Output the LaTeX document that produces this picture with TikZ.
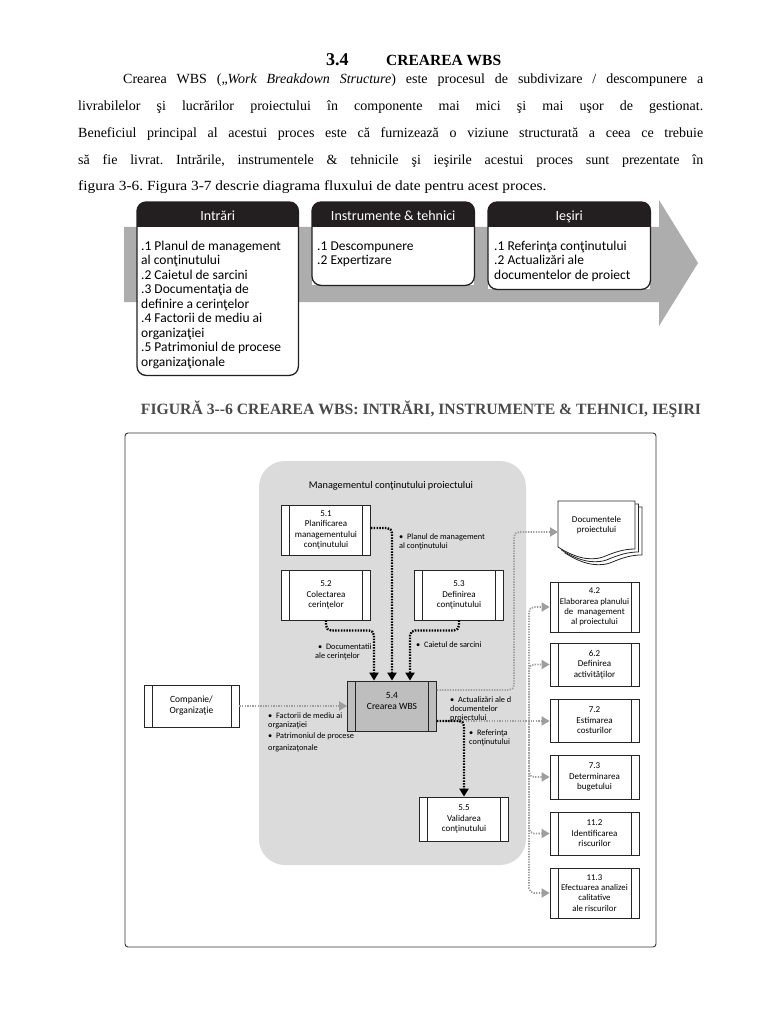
\documentclass[tikz,border=0pt]{standalone}
\usepackage{fontspec}
\usepackage{graphicx}
\setmainfont{Liberation Serif}
\newfontfamily\dsans{Carlito}
\usetikzlibrary{arrows.meta}
\definecolor{hdr}{HTML}{231F20}
\definecolor{band}{HTML}{ADADAD}
\definecolor{panel}{HTML}{DBDBDB}
\definecolor{boxg}{HTML}{BEBEBE}
\definecolor{gflowc}{HTML}{9E9E9E}
\definecolor{capc}{HTML}{4A4A4A}
\frenchspacing
\begin{document}
\begin{tikzpicture}[x=1pt,y=-1pt,
  para/.style={anchor=base west, inner sep=0pt, font=\fontsize{14}{16}\selectfont},
  ittobox/.style={fill=white, inner sep=0pt, anchor=north west},
  hdrtext/.style={text=white, font=\dsans\fontsize{14}{16}\selectfont, inner sep=0pt, anchor=base},
  ittotext/.style={anchor=base west, align=left, inner sep=0pt, font=\dsans\fontsize{13.5}{14.5}\selectfont},
  proc/.style={draw=black!85, line width=0.8pt, fill=white, minimum width=89pt, align=center, inner sep=0pt,
    font=\dsans\fontsize{9}{10.5}\selectfont,
    path picture={\draw[black!85, line width=0.7pt]
      ([xshift=8pt]path picture bounding box.north west) -- ([xshift=8pt]path picture bounding box.south west)
      ([xshift=-8pt]path picture bounding box.north east) -- ([xshift=-8pt]path picture bounding box.south east);}},
  lbl/.style={anchor=base west, align=left, inner sep=0pt, font=\dsans\fontsize{8.3}{9.6}\selectfont},
  bflow/.style={draw=black, line width=2.3pt, dash pattern=on 1.5pt off 1.3pt, rounded corners=5pt,
    -{Triangle[length=8pt,width=9pt]}},
  gflow/.style={draw=gflowc, line width=1.8pt, dash pattern=on 1.3pt off 1.3pt, rounded corners=5pt,
    -{Triangle[length=8pt,width=9pt]}}
]
\useasboundingbox (0,0) rectangle (768,1024);
\fill[white] (0,0) rectangle (768,1024);

% ---------- title and paragraph ----------
\node[anchor=base west, inner sep=0pt, font=\bfseries\fontsize{18}{20}\selectfont] (t34) at (326,66) {3.4};
\node[anchor=base west, inner sep=0pt, font=\bfseries\fontsize{15.5}{17}\selectfont] (ttl) at (386,66) {CREAREA WBS};

\node[para] (p1) at (123,84) {\makebox[580pt][s]{Crearea WBS („\textit{Work Breakdown Structure}) este procesul de subdivizare / descompunere a}};
\node[para] (p2) at (78,111) {\makebox[625pt][s]{livrabilelor şi lucrărilor proiectului în componente mai mici şi mai uşor de gestionat.}};
\node[para] (p3) at (78,138) {\makebox[625pt][s]{Beneficiul principal al acestui proces este că furnizează o viziune structurată a ceea ce trebuie}};
\node[para] (p4) at (78,165) {\makebox[625pt][s]{să fie livrat. Intrările, instrumentele \& tehnicile şi ieşirile acestui proces sunt prezentate în}};
\node[para] (p5) at (78,191) {\scalebox{1.1}[1]{figura 3-6. Figura 3-7 descrie diagrama fluxului de date pentru acest proces.}};

% ---------- ITTO figure ----------
\fill[band] (124,227) -- (659,227) -- (659,200) -- (698,263) -- (659,326) -- (659,302) -- (124,302) -- cycle;

\node[ittobox, minimum width=161pt, minimum height=173pt] (inb) at (137,202) {};
\node[ittobox, minimum width=162pt, minimum height=83pt] (itb) at (312,202) {};
\node[ittobox, minimum width=162pt, minimum height=87pt] (ieb) at (488,202) {};
\foreach \b in {inb,itb,ieb}{
  \begin{scope}
    \clip[rounded corners=9pt] (\b.north west) rectangle (\b.south east);
    \fill[hdr] (\b.north west) rectangle ([yshift=-25pt]\b.north east);
  \end{scope}
  \draw[hdr, line width=1.3pt, rounded corners=9pt] (\b.north west) rectangle (\b.south east);
}
\node[hdrtext] (inh) at ([yshift=-19pt]inb.north) {Intrări};
\node[hdrtext] (ith) at ([yshift=-19pt]itb.north) {Instrumente \& tehnici};
\node[hdrtext] (ieh) at ([yshift=-19pt]ieb.north) {Ieşiri};

\node[ittotext] (inl) at (141,366) {.1 Planul de management\\al conţinutului\\.2 Caietul de sarcini\\.3 Documentaţia de\\definire a cerinţelor\\.4 Factorii de mediu ai\\organizaţiei\\.5 Patrimoniul de procese\\organizaţionale};
\node[ittotext] (itl) at (317,264.5) {.1 Descompunere\\.2 Expertizare};
\node[ittotext] (iel) at (494,279) {.1 Referinţa conţinutului\\.2 Actualizări ale\\documentelor de proiect};

\node[anchor=base, inner sep=0pt, text=capc, font=\bfseries\fontsize{15.7}{17}\selectfont] (cap) at (421,414)
  {FIGURĂ 3-{}-6 CREAREA WBS: INTRĂRI, INSTRUMENTE \& TEHNICI, IEŞIRI};

% ---------- data flow diagram ----------
\draw[black!80, line width=0.9pt, rounded corners=3pt] (125,433) rectangle (656,947);
\node[fill=panel, rounded corners=26pt, minimum width=267pt, minimum height=404pt, inner sep=0pt] (pan) at (392.5,663) {};
\node[inner sep=0pt, font=\dsans\fontsize{10.3}{12}\selectfont] (pant) at (391,486) {Managementul conţinutului proiectului};

\node[proc, minimum height=50pt] (s51) at (326,530) {5.1\\Planificarea\\managementului\\conţinutului};
\node[proc, minimum height=50pt] (s52) at (326,595) {5.2\\Colectarea\\cerinţelor};
\node[proc, minimum height=50pt] (s53) at (459,595) {5.3\\Definirea\\conţinutului};
\node[proc, minimum height=50pt, fill=boxg] (s54) at (392,706) {};
\node[inner sep=0pt, align=center, font=\dsans\fontsize{9.5}{11}\selectfont] (s54t) at ([yshift=5pt]s54.center) {5.4\\Crearea WBS};
\node[proc, minimum height=44pt] (s55) at (464,819) {5.5\\Validarea\\conţinutului};
\node[proc, minimum width=95pt, minimum height=42pt, font=\dsans\fontsize{9.5}{11}\selectfont] (comp) at (191.5,706) {Companie/\\Organizaţie};

\node[proc, minimum height=50pt, font=\dsans\fontsize{8.8}{10.2}\selectfont] (r42) at (594.5,607) {4.2\\Elaborarea planului\\de\ \ management\\al proiectului};
\node[proc, minimum height=43pt] (r62) at (594.5,664.5) {6.2\\Definirea\\activităţilor};
\node[proc, minimum height=43pt] (r72) at (594.5,720.5) {7.2\\Estimarea\\costurilor};
\node[proc, minimum height=44pt] (r73) at (594.5,777) {7.3\\Determinarea\\bugetului};
\node[proc, minimum height=43pt] (r112) at (594.5,833.5) {11.2\\Identificarea\\riscurilor};
\node[proc, minimum height=50pt, font=\dsans\fontsize{8.8}{10.2}\selectfont] (r113) at (594.5,893) {11.3\\Efectuarea analizei\\calitative\\ale riscurilor};

% document stack
\foreach \d in {7,3.5,0}{
  \draw[black!85, line width=0.8pt, fill=white, shift={(\d,\d*0.85)}]
    (558,501) -- (635,501) -- (635,549) .. controls (624,549) and (615,552) .. (603,557)
    .. controls (588,562) and (572,556) .. (558,547) -- cycle;
}
\node[inner sep=0pt, align=center, font=\dsans\fontsize{9}{10.5}\selectfont, minimum width=77pt, minimum height=48pt] (doc) at (596.5,525) {Documentele\\proiectului};

% gray flows
\draw[gflow] (comp.east) -- (s54.west);
\coordinate (dj) at (514,532);
\draw[gflow] ([yshift=16pt]s54.east) -| (dj) -- (558,532);
\coordinate (vj) at (529,721);
\draw[gflow] ([yshift=-15pt]s54.east) -- (r72.west |- vj);
\foreach \r in {r42,r62,r73,r112,r113}{
  \draw[gflow] (vj) |- (\r.west);
}

% black flows
\draw[bflow] ([yshift=2pt]s51.east) -| (s54.north);
\draw[bflow] (s52.south) -- ++(0,10) -| ([xshift=-18pt]s54.north);
\draw[bflow] (s53.south) -- ++(0,10) -| ([xshift=18pt]s54.north);
\draw[bflow] ([yshift=-15pt]s54.east) -| (s55.north);

% labels
\node[lbl] (l1) at (399,548.6) {•\ \ Planul de management\\al conţinutului};
\node[lbl] (l2) at (318,658.6) {•\ \ Documentatii\\\hspace*{-3pt}ale cerinţelor};
\node[lbl] (l3) at (416,647) {•\ \ Caietul de sarcini};
\node[lbl] (l4) at (268,727.6) {•\ \ Factorii de mediu ai\\organizaţiei};
\node[lbl, font=\dsans\fontsize{8.3}{12}\selectfont] (l5) at (268,750) {•\ \ Patrimoniul de procese\\organizaţonale};
\node[lbl, font=\dsans\fontsize{8.3}{9.2}\selectfont] (l6) at (450,720.4) {•\ \ Actualizări ale d\\documentelor\\proiectului};
\node[lbl] (l7) at (469,744.6) {•\ \ Referinţa\\conţinutului};
\end{tikzpicture}
\end{document}
